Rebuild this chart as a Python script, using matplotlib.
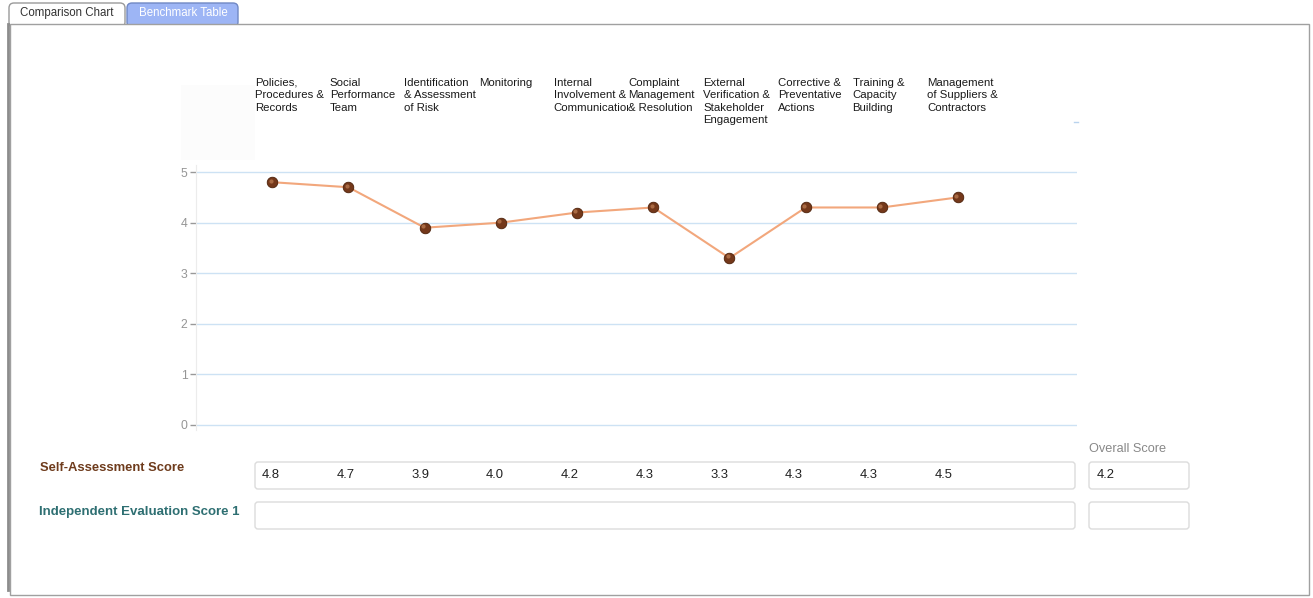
import matplotlib.pyplot as plt
import matplotlib.patches as mpatches
import matplotlib.transforms as mtransforms

plt.rcParams["font.family"] = ["Liberation Sans", "DejaVu Sans"]

categories = [
    "Policies,\nProcedures &\nRecords",
    "Social\nPerformance\nTeam",
    "Identification\n& Assessment\nof Risk",
    "Monitoring",
    "Internal\nInvolvement &\nCommunication",
    "Complaint\nManagement\n& Resolution",
    "External\nVerification &\nStakeholder\nEngagement",
    "Corrective &\nPreventative\nActions",
    "Training &\nCapacity\nBuilding",
    "Management\nof Suppliers &\nContractors",
]
self_scores = [4.8, 4.7, 3.9, 4.0, 4.2, 4.3, 3.3, 4.3, 4.3, 4.5]
overall_score = 4.2
y_ticks = [0, 1, 2, 3, 4, 5]

W, H = 1313, 598
fig = plt.figure(figsize=(W / 100, H / 100), dpi=100)

# page layer in pixel coordinates
bg = fig.add_axes([0, 0, 1, 1], zorder=0)
bg.set_xlim(0, W)
bg.set_ylim(H, 0)
bg.axis("off")

# tabs
tab1 = mpatches.FancyBboxPatch((9, 3), 116, 24, boxstyle="round,pad=0,rounding_size=5",
                               fc="white", ec="#9a9a9a", lw=1)
tab2 = mpatches.FancyBboxPatch((127, 3), 111, 24, boxstyle="round,pad=0,rounding_size=5",
                               fc="#9db5f5", ec="#7088c4", lw=1)
bg.add_patch(tab1)
bg.add_patch(tab2)
bg.text(67, 13, "Comparison Chart", ha="center", va="center", fontsize=8.3, color="#333333")
bg.text(183, 13, "Benchmark Table", ha="center", va="center", fontsize=8.3, color="white")

# panel
bg.add_patch(mpatches.Rectangle((10, 24), 1299, 571, fc="white", ec="#a0a0a0", lw=1))
bg.plot([7.5, 7.5], [24, 590], color="#8c8c8c", lw=2)
bg.add_patch(mpatches.Rectangle((181, 85), 74, 75, fc="#fcfcfc", ec="none"))
bg.plot([1074, 1078], [122, 122], color="#b9d3ee", lw=1)

# category header labels (clipped to their columns like the table cells)
col_x0, col_w = 255, 74.7
for i, lab in enumerate(categories):
    x = col_x0 + i * col_w
    t = bg.text(x, 77.5, lab, ha="left", va="top", fontsize=8.2, color="#1a1a1a",
                linespacing=1.32, clip_on=True)
    box = mtransforms.Bbox.from_extents(x - 1, 70, x + col_w - 1, 140)
    t.set_clip_box(mtransforms.TransformedBbox(box, bg.transData))

# score rows
bg.text(40, 468, "Self-Assessment Score", ha="left", va="center", fontsize=9.4,
        fontweight="bold", color="#6e3b1c")
bg.text(39, 512, "Independent Evaluation Score 1", ha="left", va="center", fontsize=9.5,
        fontweight="bold", color="#2e6f72")
for y0 in (462, 502):
    bg.add_patch(mpatches.FancyBboxPatch((255, y0), 820, 27, boxstyle="round,pad=0,rounding_size=3",
                                         fc="white", ec="#dcdcdc", lw=1))
    bg.add_patch(mpatches.FancyBboxPatch((1089, y0), 100, 27, boxstyle="round,pad=0,rounding_size=3",
                                         fc="white", ec="#dcdcdc", lw=1))
for i, v in enumerate(self_scores):
    bg.text(262 + i * col_w, 475.5, f"{v:.1f}", ha="left", va="center", fontsize=9.4, color="#222222")
bg.text(1089, 448.5, "Overall Score", ha="left", va="center", fontsize=9.2, color="#888888")
bg.text(1097, 475.5, f"{overall_score:.1f}", ha="left", va="center", fontsize=9.4, color="#222222")

# chart area
ax = fig.add_axes([196 / W, (H - 430) / H, (1077 - 196) / W, 265 / H], zorder=1)
ax.patch.set_alpha(0)
xs = list(range(len(self_scores)))
ax.plot(xs, self_scores, color="#f2a77c", lw=1.5, zorder=2)
ax.plot(xs, self_scores, "o", ms=7.6, mfc="#74381a", mec="#4c2109", mew=0.6, zorder=3)
hl = ax.transData + mtransforms.ScaledTranslation(-1.2 / 72, 1.2 / 72, fig.dpi_scale_trans)
ax.plot(xs, self_scores, "o", ms=3, mfc="#b7774e", mec="none", alpha=0.8, zorder=4, transform=hl)

ax.set_xlim(-1, 10.56)
ax.set_ylim(-0.1, 5.14)
ax.set_yticks(y_ticks)
ax.set_xticks([])
ax.grid(axis="y", color="#cde2f4", lw=1)
ax.set_axisbelow(True)
for s in ("top", "right", "bottom"):
    ax.spines[s].set_visible(False)
ax.spines["left"].set_color("#ececec")
ax.tick_params(axis="y", length=4, width=1, color="#999999", labelcolor="#959595",
               labelsize=8.8, pad=2)

fig.savefig("out.png", dpi=100)
